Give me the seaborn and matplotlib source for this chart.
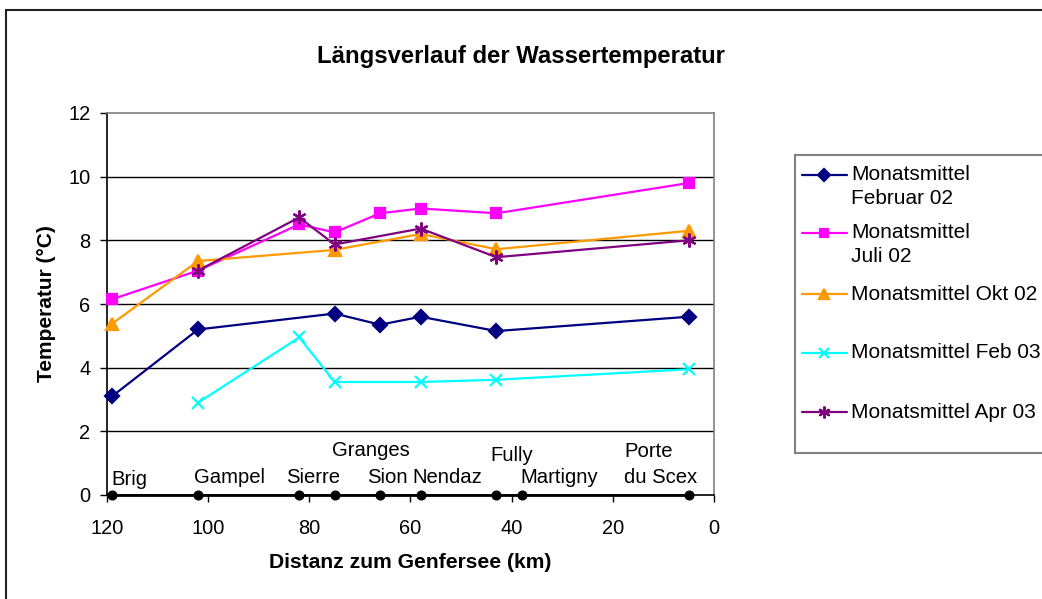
import matplotlib
matplotlib.use("Agg")
import matplotlib.pyplot as plt
import seaborn as sns
from matplotlib.lines import Line2D
from matplotlib.patches import Rectangle

# --- data ---
orte = ["Brig", "Gampel", "Sierre", "Granges", "Sion", "Nendaz", "Fully", "Martigny", "Porte\ndu Scex"]
orte_km = [119, 102, 82, 75, 66, 58, 43, 38, 5]

feb02_km = [119, 102, 75, 66, 58, 43, 5]
feb02 = [3.1, 5.2, 5.7, 5.35, 5.6, 5.15, 5.6]
jul02_km = [119, 102, 82, 75, 66, 58, 43, 5]
jul02 = [6.15, 7.05, 8.5, 8.25, 8.85, 9.0, 8.85, 9.8]
okt02_km = [119, 102, 75, 58, 43, 5]
okt02 = [5.38, 7.35, 7.7, 8.2, 7.72, 8.3]
feb03_km = [102, 82, 75, 58, 43, 5]
feb03 = [2.9, 4.95, 3.55, 3.55, 3.62, 3.95]
apr03_km = [102, 82, 75, 58, 43, 5]
apr03 = [7.05, 8.72, 7.87, 8.37, 7.47, 8.0]

namen = ["Monatsmittel\nFebruar 02", "Monatsmittel\nJuli 02", "Monatsmittel Okt 02",
         "Monatsmittel Feb 03", "Monatsmittel Apr 03"]

# --- styling ---
farben = ["#000080", "#FF00FF", "#FF9900", "#00FFFF", "#800080"]
marker = ["D", "s", "^", "x", (6, 2, 0)]
msize = [7.5, 7.5, 9, 8, 10]
# text anchor (left edge, baseline of last line) for the place names, in data units
orte_text_pos = [(119.2, 0.31), (102.8, 0.39), (84.6, 0.39), (75.5, 1.23), (68.5, 0.39),
                 (59.6, 0.39), (44.3, 1.07), (38.2, 0.39), (17.8, 0.39)]

sns.set_theme(style="white")
plt.rcParams["font.family"] = ["Liberation Sans", "DejaVu Sans"]
for k in ["text.color", "axes.labelcolor", "xtick.color", "ytick.color"]:
    plt.rcParams[k] = "black"

W, H = 1042, 599
fig = plt.figure(figsize=(W / 100, H / 100), dpi=100)
ax = fig.add_axes([107 / W, 1 - 495 / H, (714 - 107) / W, (495 - 113) / H])

serien = [(feb02_km, feb02), (jul02_km, jul02), (okt02_km, okt02),
          (feb03_km, feb03), (apr03_km, apr03)]

for y in [2, 4, 6, 8, 10]:
    ax.axhline(y, color="black", lw=1, zorder=1)

for (xs, ys), c, m, s in zip(serien, farben, marker, msize):
    sns.lineplot(x=xs, y=ys, ax=ax, color=c, marker=m, markersize=s, lw=1.6,
                 markeredgecolor=c, markeredgewidth=1.6, zorder=3, clip_on=False)

# place markers along the river at 0
sns.lineplot(x=orte_km, y=[0] * len(orte_km), ax=ax, color="black", marker="o",
             markersize=6.5, lw=2, markeredgecolor="black", zorder=4, clip_on=False)

for name, (tx, ty) in zip(orte, orte_text_pos):
    ax.text(tx, ty, name, ha="left", va="baseline", fontsize=14.6, color="black",
            linespacing=1.45, zorder=5)

ax.set_xlim(120, 0)
ax.set_ylim(0, 12)
ax.set_xticks([120, 100, 80, 60, 40, 20, 0])
ax.set_yticks([0, 2, 4, 6, 8, 10, 12])
ax.tick_params(axis="x", direction="out", length=5, width=1, color="black",
               labelcolor="black", labelsize=14.4, pad=12)
ax.tick_params(axis="y", direction="out", length=5, width=1, color="black",
               labelcolor="black", labelsize=14.4, pad=7)
ax.tick_params(bottom=True, left=True)

for side in ["left", "bottom"]:
    ax.spines[side].set_color("black")
    ax.spines[side].set_linewidth(1.2)
for side in ["top", "right"]:
    ax.spines[side].set_color("#808080")
    ax.spines[side].set_linewidth(1.2)

ax.set_xlabel("Distanz zum Genfersee (km)", fontsize=15.2, fontweight="bold", va="center",
              color="black")
ax.xaxis.set_label_coords((410 - 107) / (714 - 107), -(563 - 495) / (495 - 113))
ax.set_ylabel("Temperatur (°C)", fontsize=15, fontweight="bold", va="center", color="black")
ax.yaxis.set_label_coords(-(107 - 46) / (714 - 107), 0.5)

fig.text(521 / W, 1 - 56 / H, "Längsverlauf der Wassertemperatur", ha="center",
         va="center", fontsize=17.2, fontweight="bold", color="black")

# legend box drawn by hand so the handle sits on the first text line
lax = fig.add_axes([795 / W, 1 - 453 / H, (1060 - 795) / W, (453 - 155) / H])
lax.set_xlim(0, 1060 - 795)
lax.set_ylim(453 - 155, 0)
lax.set_xticks([])
lax.set_yticks([])
lax.patch.set_alpha(0)
for sp in lax.spines.values():
    sp.set_color("#808080")
    sp.set_linewidth(1.5)
eintrag_y = [20, 78, 139, 198, 257]
for name, c, m, s, ey in zip(namen, farben, marker, msize, eintrag_y):
    lax.add_line(Line2D([6.5, 51.5], [ey, ey], color=c, lw=1.6))
    lax.add_line(Line2D([29], [ey], color=c, marker=m, markersize=s * 0.85,
                        markeredgecolor=c, markeredgewidth=1.6))
    for i, zeile in enumerate(name.split("\n")):
        lax.text(56, ey + i * 23, zeile, ha="left", va="center", fontsize=15, color="black")

# outer chart border
fig.add_artist(Rectangle((6 / W, -0.05), 1.1, 1 - 10 / H + 0.05, transform=fig.transFigure,
                         fill=False, edgecolor="#222222", lw=1.5, clip_on=False))

fig.savefig("out.png", dpi=100)
